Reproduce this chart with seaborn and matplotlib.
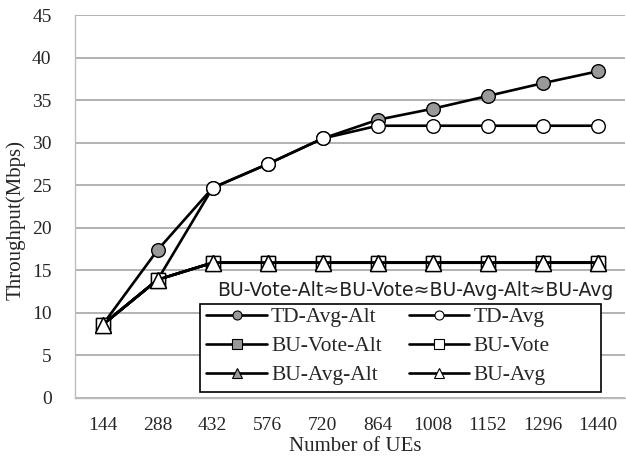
import matplotlib
matplotlib.use("Agg")
import matplotlib.pyplot as plt
from matplotlib.lines import Line2D
from matplotlib.patches import Rectangle
import seaborn as sns
import pandas as pd

# Number of UEs (categorical x axis)
ues = ["144", "288", "432", "576", "720", "864", "1008", "1152", "1296", "1440"]

# Throughput (Mbps) per scheme
td_avg_alt = [8.6, 17.4, 24.7, 27.5, 30.5, 32.7, 34.0, 35.5, 37.0, 38.4]
td_avg = [8.6, 13.9, 24.7, 27.5, 30.5, 32.0, 32.0, 32.0, 32.0, 32.0]
bu_vote_alt = [8.6, 13.9, 15.9, 15.9, 15.9, 15.9, 15.9, 15.9, 15.9, 15.9]
bu_vote = [8.6, 13.9, 15.9, 15.9, 15.9, 15.9, 15.9, 15.9, 15.9, 15.9]
bu_avg_alt = [8.6, 13.9, 15.9, 15.9, 15.9, 15.9, 15.9, 15.9, 15.9, 15.9]
bu_avg = [8.6, 13.9, 15.9, 15.9, 15.9, 15.9, 15.9, 15.9, 15.9, 15.9]

series = [
    ("TD-Avg-Alt", td_avg_alt, "o", "#999999"),
    ("TD-Avg", td_avg, "o", "white"),
    ("BU-Vote-Alt", bu_vote_alt, "s", "#999999"),
    ("BU-Vote", bu_vote, "s", "white"),
    ("BU-Avg-Alt", bu_avg_alt, "^", "#999999"),
    ("BU-Avg", bu_avg, "^", "white"),
]
marker_sizes = {"o": 9.8, "s": 10.5, "^": 11.5}

sns.set_theme(style="white")
plt.rcParams["font.family"] = ["Liberation Serif", "DejaVu Serif"]

fig, ax = plt.subplots(figsize=(6.26, 4.59), dpi=100)
fig.subplots_adjust(left=0.12, right=0.999, top=0.967, bottom=0.133)

handles = {}
for name, vals, marker, face in series:
    df = pd.DataFrame({"UEs": ues, "Throughput": vals})
    sns.lineplot(data=df, x="UEs", y="Throughput", ax=ax, color="black",
                 linewidth=1.9, marker=marker, markersize=marker_sizes[marker],
                 markerfacecolor=face, markeredgecolor="black",
                 markeredgewidth=1.0, label=name, legend=False)
    handles[name] = ax.lines[-1]

ax.set_xlim(-0.5, len(ues) - 0.5)
ax.set_ylim(0, 45)
ax.set_yticks(range(0, 46, 5))
ax.yaxis.grid(True, color="#a6a6a6", linewidth=1.2)
ax.xaxis.grid(False)
for side in ("top", "right"):
    ax.spines[side].set_visible(False)
for side in ("left", "bottom"):
    ax.spines[side].set_color("#bdbdbd")
    ax.spines[side].set_linewidth(1.0)
ax.tick_params(axis="both", labelsize=14, length=0)
ax.tick_params(axis="y", pad=17)
ax.tick_params(axis="x", pad=14)
ax.set_xlabel("Number of UEs", fontsize=15)
ax.set_ylabel("Throughput(Mbps)", fontsize=15)
ax.xaxis.set_label_coords(0.51, -0.128)
ax.yaxis.set_label_coords(-0.107, 0.465)
ax.xaxis.label.set_va("center")
ax.yaxis.label.set_va("center")

# Legend box (drawn as a fixed rectangle), two columns of entries inside
ax.add_patch(Rectangle((0.227, 0.016), 0.729, 0.229, transform=ax.transAxes,
                       facecolor="white", edgecolor="black", linewidth=1.2,
                       zorder=4.9, clip_on=False))
order = ["TD-Avg-Alt", "BU-Vote-Alt", "BU-Avg-Alt", "TD-Avg", "BU-Vote", "BU-Avg"]
leg_handles = []
for name in order:
    src = handles[name]
    leg_handles.append(Line2D([], [], color="black", linewidth=1.9,
                              marker=src.get_marker(),
                              markersize=6.5 if src.get_marker() != "^" else 7.5,
                              markerfacecolor=src.get_markerfacecolor(),
                              markeredgecolor="black", markeredgewidth=0.8))
leg = ax.legend(leg_handles, order, ncol=2, loc="lower left",
                bbox_to_anchor=(0.227, 0.016), fontsize=15.5, frameon=False,
                handlelength=2.8, handletextpad=0.2, columnspacing=1.25,
                labelspacing=0.42, borderpad=0.3, borderaxespad=0)
leg.set_zorder(5)

ax.text(0.979, 0.281, "BU-Vote-Alt\u2248BU-Vote\u2248BU-Avg-Alt\u2248BU-Avg",
        transform=ax.transAxes, ha="right", va="center", fontsize=13.6,
        family=["DejaVu Sans"], color="#222222")

fig.savefig("out.png", dpi=100)
